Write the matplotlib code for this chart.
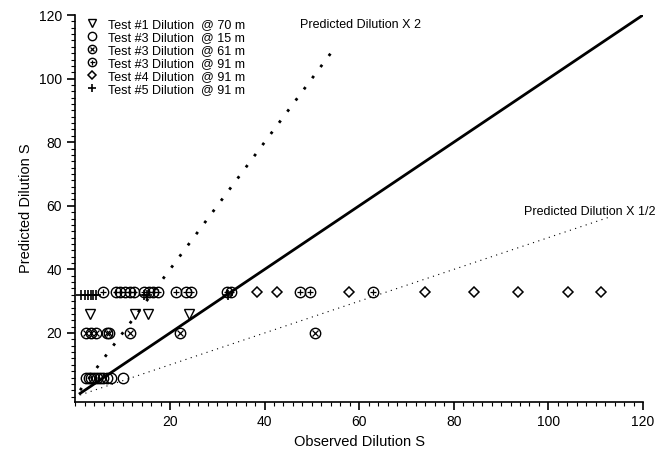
import matplotlib
matplotlib.use("Agg")
import matplotlib.pyplot as plt
from matplotlib.ticker import MultipleLocator
from matplotlib.legend_handler import HandlerTuple

plt.rcParams['font.family'] = ['Liberation Sans', 'DejaVu Sans']

# observed (x) vs predicted (y) dilution
t1_70_x = [3.1, 12.6, 15.4, 24.0]
t1_70_y = [26, 26, 26, 26]
t3_15_x = [2.2, 2.8, 3.4, 4.0, 4.6, 5.2, 5.8, 6.6, 7.6, 10.0]
t3_15_y = [5.9] * 10
t3_61_x = [2.2, 3.3, 4.4, 6.6, 7.2, 11.5, 22.1, 50.6]
t3_61_y = [20] * 8
t3_91_x = [5.8, 8.5, 9.5, 10.5, 11.5, 12.5, 14.5, 15.5, 16.5, 17.5,
           21.3, 23.3, 24.5, 32.0, 33.0, 47.5, 49.5, 62.9]
t3_91_y = [33] * 18
t4_91_x = [38.4, 42.7, 57.8, 73.9, 84.3, 93.6, 104.1, 111.1]
t4_91_y = [33] * 8
t5_91_x = [1.2, 2.0, 2.6, 3.2, 3.8, 4.4, 14.5, 15.2, 32.3]
t5_91_y = [32] * 9

# reference lines
one_x = [1, 120]
one_y = [1, 120]
two_x = [1, 55]
two_y = [2, 110]
half_x = [1, 113]
half_y = [0.5, 56.5]

fig = plt.figure(figsize=(6.67, 4.55), dpi=100)
ax = fig.add_axes([0.113, 0.1165, 0.851, 0.8505])

ax.plot(one_x, one_y, color='black', lw=2.0)
ax.plot(two_x, two_y, color='black', lw=2.0, ls=(0, (1, 4)))
ax.plot(half_x, half_y, color='black', lw=0.8, ls=(0, (1, 4)))

ms = 7.5
h1, = ax.plot(t1_70_x, t1_70_y, 'v', mfc='none', mec='black', mew=1.0, ms=ms)
h2, = ax.plot(t3_15_x, t3_15_y, 'o', mfc='none', mec='black', mew=1.0, ms=ms)
h3a, = ax.plot(t3_61_x, t3_61_y, 'o', mfc='none', mec='black', mew=1.0, ms=ms)
h3b, = ax.plot(t3_61_x, t3_61_y, 'x', color='black', mew=0.9, ms=ms * 0.5)
h4a, = ax.plot(t3_91_x, t3_91_y, 'o', mfc='none', mec='black', mew=1.0, ms=ms)
h4b, = ax.plot(t3_91_x, t3_91_y, '+', color='black', mew=0.9, ms=ms * 0.6)
h5, = ax.plot(t4_91_x, t4_91_y, 'D', mfc='none', mec='black', mew=1.1, ms=5.5)
h6, = ax.plot(t5_91_x, t5_91_y, '+', color='black', mew=1.2, ms=ms)

ax.text(47.5, 117, 'Predicted Dilution X 2', fontsize=9, va='center')
ax.text(94.8, 58, 'Predicted Dilution X 1/2', fontsize=9, va='center', clip_on=False)

ax.set_xlim(0, 120)
ax.set_ylim(-1.7, 120)
ax.set_xticks([20, 40, 60, 80, 100, 120])
ax.set_yticks([20, 40, 60, 80, 100, 120])
ax.xaxis.set_minor_locator(MultipleLocator(2))
ax.yaxis.set_minor_locator(MultipleLocator(2))
ax.tick_params(which='major', direction='out', length=6, width=1.2, labelsize=10)
ax.tick_params(which='minor', direction='out', length=3, width=0.8)
for s in ['top', 'right']:
    ax.spines[s].set_visible(False)
for s in ['left', 'bottom']:
    ax.spines[s].set_linewidth(1.2)

ax.set_xlabel('Observed Dilution S', fontsize=10.5)
ax.set_ylabel('Predicted Dilution S', fontsize=10.5)

handles = [h1, h2, (h3a, h3b), (h4a, h4b), h5, h6]
labels = ['Test #1 Dilution  @ 70 m', 'Test #3 Dilution  @ 15 m',
          'Test #3 Dilution  @ 61 m', 'Test #3 Dilution  @ 91 m',
          'Test #4 Dilution  @ 91 m', 'Test #5 Dilution  @ 91 m']
ax.legend(handles, labels, loc='upper left', bbox_to_anchor=(0.005, 1.01),
          frameon=False, fontsize=9, labelspacing=0.08, handlelength=1.0,
          handletextpad=0.8, borderaxespad=0.2, markerscale=0.8,
          handler_map={tuple: HandlerTuple(ndivide=1, pad=0)})

fig.savefig("out.png", dpi=100)
